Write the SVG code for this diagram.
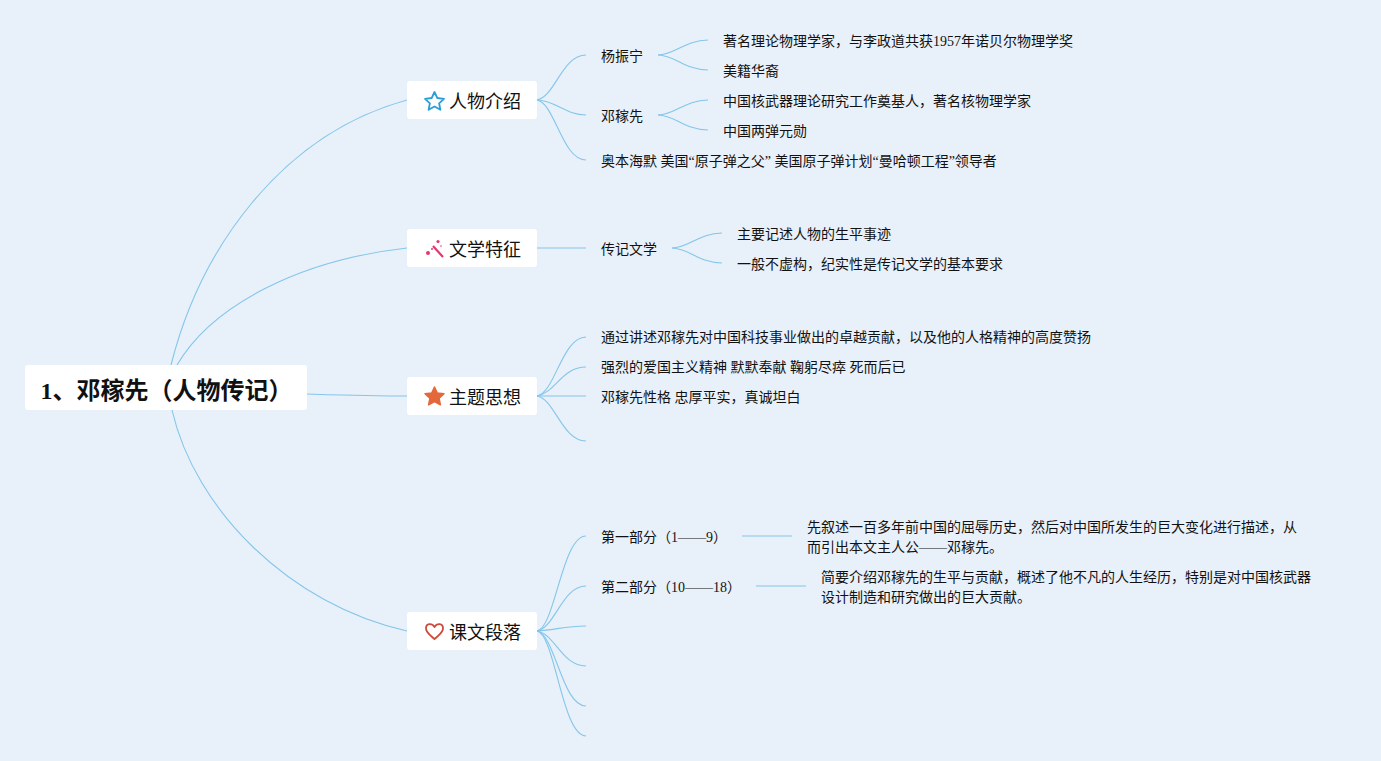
<svg xmlns="http://www.w3.org/2000/svg" width="1381" height="761" viewBox="0 0 1381 761">
<style>
text{font-family:"Liberation Serif","Noto Sans CJK SC",serif;fill:#111}
.l{font-size:14px}
.b{font-size:18px}
.r{font-size:24px;font-weight:bold}
.box{fill:#fff}
.c path{fill:none;stroke:#84c6ea;stroke-width:1.100}
</style>
<rect width="1381" height="761" fill="#e8f0f9"/>
<g class="c" id="connectors">
<path d="M171 365C200 250 280 135 407 100"/>
<path d="M177 365C212 305 300 260 407 248"/>
<path d="M307 394C340 395 370 396 407 396"/>
<path d="M172 410C195 510 290 605 407 631"/>
<path d="M537 100C555 97 562 55 586 55"/>
<path d="M537 100C555 100 565 115 586 115"/>
<path d="M537 100C555 103 562 160 586 160"/>
<path d="M537 248H586"/>
<path d="M537 396C555 393 562 337 586 337"/>
<path d="M537 396C555 393 562 367 586 367"/>
<path d="M537 396H586"/>
<path d="M537 396C555 399 562 441 586 441"/>
<path d="M537 631C555 628 562 536 586 536"/>
<path d="M537 631C555 628 562 586 586 586"/>
<path d="M537 631C555 630 565 626 586 626"/>
<path d="M537 631C555 634 562 666 586 666"/>
<path d="M537 631C555 634 562 706 586 706"/>
<path d="M537 631C555 634 562 736 586 736"/>
<path d="M658 55C675 55 685 40 708 40"/>
<path d="M658 55C675 55 685 70 708 70"/>
<path d="M658 115C675 115 685 100 708 100"/>
<path d="M658 115C675 115 685 130 708 130"/>
<path d="M672 248C689 248 699 233 722 233"/>
<path d="M672 248C689 248 699 263 722 263"/>
<path d="M742 536H792"/>
<path d="M756 586H806"/>
</g>
<g id="root"><rect class="box" x="25" y="365" width="282" height="45" rx="3"/><text class="r" x="40.500" y="399">1、邓稼先（人物传记）</text></g>
<g id="b1"><rect class="box" x="407" y="81" width="130" height="38" rx="3"/>
<path d="M434.500 92L437.300 98 444 98.800 439.100 103.300 440.400 109.800 434.500 106.500 428.600 109.800 429.900 103.300 425 98.800 431.700 98Z" fill="none" stroke="#2a9fd6" stroke-width="1.800" stroke-linejoin="round"/>
<text class="b" x="449" y="108">人物介绍</text></g>
<g id="b2"><rect class="box" x="407" y="229" width="130" height="38" rx="3"/>
<path d="M433 246L443 257" fill="none" stroke="#e6356f" stroke-width="2.200"/>
<circle cx="428" cy="253" r="2" fill="#e6356f"/><circle cx="438" cy="241.500" r="1.600" fill="#e6356f"/><circle cx="432" cy="249" r="1" fill="#e6356f"/><circle cx="441" cy="246" r="0.800" fill="#e6356f"/>
<text class="b" x="449" y="256">文学特征</text></g>
<g id="b3"><rect class="box" x="407" y="377" width="130" height="38" rx="3"/>
<path d="M434.500 387L437.300 393 444 393.800 439.100 398.300 440.400 404.800 434.500 401.500 428.600 404.800 429.900 398.300 425 393.800 431.700 393Z" fill="#e4683a" stroke="#e4683a" stroke-width="1.500" stroke-linejoin="round"/>
<text class="b" x="449" y="404">主题思想</text></g>
<g id="b4"><rect class="box" x="407" y="612" width="130" height="38" rx="3"/>
<path d="M434.500 639C430 635 426 632.500 426 628.500 426 623 432 623 434.500 627 437 623 443 623 443 628.500 443 632.500 439 635 434.500 639Z" fill="none" stroke="#cf4a3a" stroke-width="1.800" stroke-linejoin="round"/>
<text class="b" x="449" y="639">课文段落</text></g>
<g id="n1"><text class="l" x="601" y="61">杨振宁</text></g>
<g id="n2"><text class="l" x="723" y="46">著名理论物理学家，与李政道共获1957年诺贝尔物理学奖</text></g>
<g id="n3"><text class="l" x="723" y="76">美籍华裔</text></g>
<g id="n4"><text class="l" x="601" y="121">邓稼先</text></g>
<g id="n5"><text class="l" x="723" y="106">中国核武器理论研究工作奠基人，著名核物理学家</text></g>
<g id="n6"><text class="l" x="723" y="136">中国两弹元勋</text></g>
<g id="n7"><text class="l" x="601" y="166">奥本海默 美国“原子弹之父” 美国原子弹计划“曼哈顿工程”领导者</text></g>
<g id="n8"><text class="l" x="601" y="254">传记文学</text></g>
<g id="n9"><text class="l" x="737" y="239">主要记述人物的生平事迹</text></g>
<g id="n10"><text class="l" x="737" y="269">一般不虚构，纪实性是传记文学的基本要求</text></g>
<g id="n11"><text class="l" x="601" y="342">通过讲述邓稼先对中国科技事业做出的卓越贡献，以及他的人格精神的高度赞扬</text></g>
<g id="n12"><text class="l" x="601" y="372">强烈的爱国主义精神 默默奉献 鞠躬尽瘁 死而后已</text></g>
<g id="n13"><text class="l" x="601" y="402">邓稼先性格 忠厚平实，真诚坦白</text></g>
<g id="n14"><text class="l" x="601" y="542">第一部分（1——9）</text></g>
<g id="n15"><text class="l" x="807" y="532">先叙述一百多年前中国的屈辱历史，然后对中国所发生的巨大变化进行描述，从</text><text class="l" x="807" y="552">而引出本文主人公——邓稼先。</text></g>
<g id="n16"><text class="l" x="601" y="592">第二部分（10——18）</text></g>
<g id="n17"><text class="l" x="821" y="582">简要介绍邓稼先的生平与贡献，概述了他不凡的人生经历，特别是对中国核武器</text><text class="l" x="821" y="602">设计制造和研究做出的巨大贡献。</text></g>
</svg>
